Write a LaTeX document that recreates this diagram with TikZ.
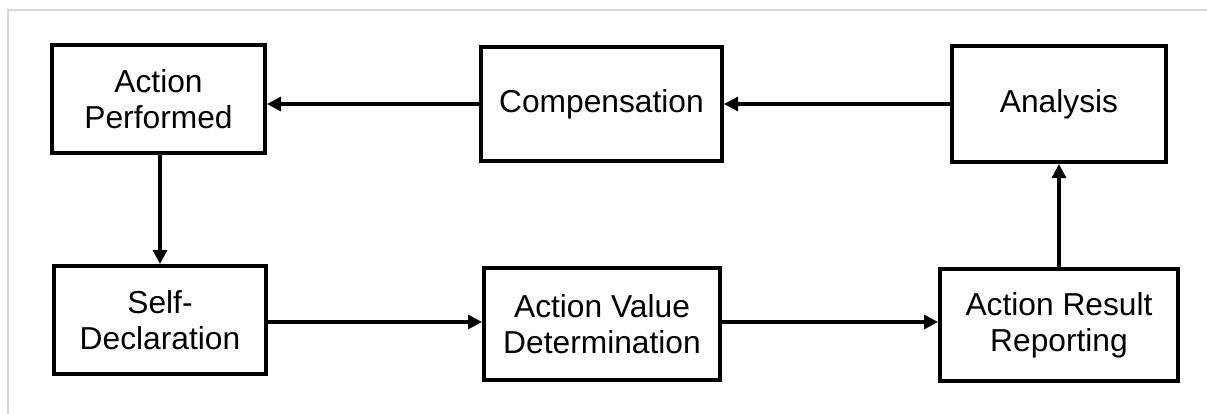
\documentclass[tikz,border=0pt]{standalone}
\usepackage{fontspec}
\setmainfont{Liberation Sans}
\usepackage{tikz}
\usetikzlibrary{arrows.meta}
\newcommand{\rowa}{104}
\newcommand{\rowb}{322}
\tikzset{box/.style={draw=black,line width=3pt,fill=white,align=center,inner sep=0pt,
                     font=\fontsize{23.8}{26.7}\selectfont},
         arr/.style={draw=black,line width=2.4pt,-{Triangle[length=10.5pt,width=10.5pt]}}}

\begin{document}
\begin{tikzpicture}[x=0.75pt,y=-0.75pt]
                    \useasboundingbox (0,0) rectangle (1207,414);
                    \draw[black!15,line width=0.8pt] (8,414) -- (8,10) -- (1207,10);
                    \coordinate (p1) at (158.5,99);
                    \coordinate (p2) at (601.5,\rowa);
                    \coordinate (p3) at (1059,\rowa);
                    \coordinate (q1) at (160,320);
                    \coordinate (q2) at (602,324);
                    \coordinate (q3) at (1059,325);
                    \node[box,minimum width=213*0.75pt,minimum height=108*0.75pt] (performed) at (p1) {Action\\Performed};
                    \node[box,minimum width=241*0.75pt,minimum height=114*0.75pt] (compensation) at (p2) {Compensation};
                    \node[box,minimum width=214*0.75pt,minimum height=116*0.75pt] (analysis) at (p3) {Analysis};
                    \node[box,minimum width=212*0.75pt,minimum height=108*0.75pt] (declaration) at (q1) {Self-\\Declaration};
                    \node[box,minimum width=236*0.75pt,minimum height=112*0.75pt] (value) at (q2) {Action Value\\Determination};
                    \node[box,minimum width=238*0.75pt,minimum height=112*0.75pt] (reporting) at (q3) {Action Result\\Reporting};
                    \draw[arr] (analysis.west |- 0,\rowa) -- (compensation.east |- 0,\rowa);
                    \draw[arr] (compensation.west |- 0,\rowa) -- (performed.east |- 0,\rowa);
                    \draw[arr] (performed.south -| 160,0) -- (declaration.north);
                    \draw[arr] (declaration.east |- 0,\rowb) -- (value.west |- 0,\rowb);
                    \draw[arr] (value.east |- 0,\rowb) -- (reporting.west |- 0,\rowb);
                    \draw[arr] (reporting.north) -- (analysis.south);
                    \end{tikzpicture}
\end{document}
